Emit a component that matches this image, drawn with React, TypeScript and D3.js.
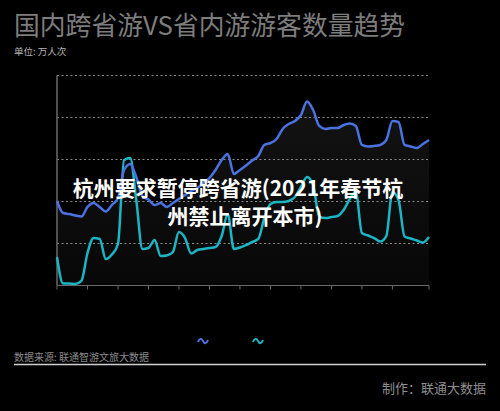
import React from "react";
import * as d3 from "d3";

// day index 0..61 (x axis), values in 万人次
const days: number[] = Array.from({ length: 62 }, (_, i) => i);

const crossProvince: number[] = [
  100.6, 86.3, 85.1, 83.3, 82.1, 93.5, 98.2, 93.5, 88.1, 95.8,
  104.2, 137.5, 144.6, 129.2, 106.5, 102.4, 95.8, 98.2, 93.5, 98.2,
  103.0, 107.7, 112.5, 116.1, 122.0, 128.0, 137.5, 149.4, 156.5, 132.7,
  137.5, 142.9, 148.8, 154.2, 167.3, 169.6, 174.4, 186.3, 192.3, 195.8,
  203.0, 219.0, 208.9, 189.9, 186.3, 187.5, 187.5, 191.1, 192.9, 189.9,
  167.3, 165.5, 166.1, 167.3, 173.2, 195.8, 194.6, 167.3, 165.5, 163.7,
  168.5, 173.2,
];

const inProvince: number[] = [
  33.9, 2.4, 2.4, 1.8, 5.4, 38.7, 56.5, 55.4, 31.5, 36.9,
  49.4, 149.4, 151.8, 101.8, 43.5, 44.6, 54.2, 35.1, 35.7, 39.9,
  63.7, 56.5, 38.1, 42.3, 43.5, 44.6, 45.8, 58.9, 85.1, 43.5,
  45.2, 48.2, 51.8, 55.4, 80.4, 97.0, 99.4, 99.4, 100.6, 105.4,
  117.3, 129.2, 119.6, 82.1, 80.4, 81.5, 82.7, 89.9, 103.0, 111.3,
  62.5, 59.5, 56.5, 52.4, 58.9, 111.3, 101.8, 58.3, 56.0, 53.6,
  51.2, 57.7,
];

const yTicks: number[] = [0, 50, 100, 150, 200, 250];
const xTicks: number[] = [0, 5, 10, 15, 20, 25, 30, 35, 40, 45, 50, 55, 61];

const title = "国内跨省游VS省内游游客数量趋势";
const unitLabel = "单位: 万人次";
const noteLine1 = "杭州要求暂停跨省游(2021年春节杭";
const noteLine2 = "州禁止离开本市)";
const sourceLabel = "数据来源: 联通智游文旅大数据";
const makerLabel = "制作：联通大数据";

const BLUE = "#4a72e0";
const TEAL = "#1cb5c4";
const FONT = "'Noto Sans CJK SC', 'Noto Sans', sans-serif";

export default function App() {
  const W = 500;
  const H = 411;
  const x = d3.scaleLinear().domain([0, 61]).range([57, 429]);
  const y = d3.scaleLinear().domain([0, 250]).range([285.5, 75.5]);

  const lineGen = d3
    .line<number>()
    .x((_, i) => x(days[i]))
    .y((d) => y(d))
    .curve(d3.curveMonotoneX);

  const areaGen = d3
    .area<number>()
    .x((_, i) => x(days[i]))
    .y0(y(0))
    .y1((d) => y(d))
    .curve(d3.curveMonotoneX);

  const wave = "M-5,1 C-3.5,-3 -1.5,-3 0,0 C1.5,3 3.5,3 5,-1";

  return (
    <svg
      width={W}
      height={H}
      style={{ position: "absolute", left: 0, top: 0, display: "block" }}
      fontFamily={FONT}
    >
      <defs>
        <linearGradient id="blueFill" gradientUnits="userSpaceOnUse" x1="0" y1={y(220)} x2="0" y2={y(0)}>
          <stop offset="0" stopColor="#ffffff" stopOpacity={0.075} />
          <stop offset="1" stopColor="#ffffff" stopOpacity={0.03} />
        </linearGradient>
      </defs>
      <rect x={0} y={0} width={W} height={H} fill="#000" />

      <text x={14} y={35} fontSize={25.8} fill="#7d7d7d">
        {title}
      </text>
      <text x={14} y={55} fontSize={9.5} fill="#b5b5b5">
        {unitLabel}
      </text>

      {/* area */}
      <path d={areaGen(crossProvince) || ""} fill="url(#blueFill)" />

      {/* grid */}
      {yTicks
        .filter((t) => t > 0)
        .map((t) => (
          <line
            key={t}
            x1={57}
            x2={429}
            y1={y(t)}
            y2={y(t)}
            stroke="#8a8a8a"
            strokeWidth={1}
            strokeDasharray="2,2.5"
          />
        ))}

      {/* axes */}
      <line x1={57} x2={57} y1={y(250)} y2={y(0)} stroke="#6a6a6a" strokeWidth={1.5} />
      <line x1={57} x2={429} y1={y(0)} y2={y(0)} stroke="#6a6a6a" strokeWidth={1.2} />
      {xTicks.map((t) => (
        <line key={t} x1={x(t)} x2={x(t)} y1={y(0)} y2={y(0) + 4} stroke="#6a6a6a" strokeWidth={1} />
      ))}

      {/* lines */}
      <path d={lineGen(inProvince) || ""} fill="none" stroke={TEAL} strokeWidth={2.5} strokeLinejoin="round" />
      <path d={lineGen(crossProvince) || ""} fill="none" stroke={BLUE} strokeWidth={2.5} strokeLinejoin="round" />

      {/* annotation */}
      <g fontSize={21} fontWeight={700} fill="#ffffff" textAnchor="middle">
        <text x={238} y={196}>{noteLine1}</text>
        <text x={245} y={224}>{noteLine2}</text>
      </g>

      {/* legend symbols */}
      <path d={wave} transform="translate(203,341)" fill="none" stroke={BLUE} strokeWidth={2} />
      <path d={wave} transform="translate(258,341)" fill="none" stroke={TEAL} strokeWidth={2} />

      {/* footer */}
      <text x={14} y={361} fontSize={10} fill="#8a8a8a">
        {sourceLabel}
      </text>
      <line x1={14} x2={486} y1={364.5} y2={364.5} stroke="#d0d0d0" strokeWidth={1.5} />
      <text x={486} y={393} fontSize={13} fill="#8f8f8f" textAnchor="end">
        {makerLabel}
      </text>
    </svg>
  );
}
